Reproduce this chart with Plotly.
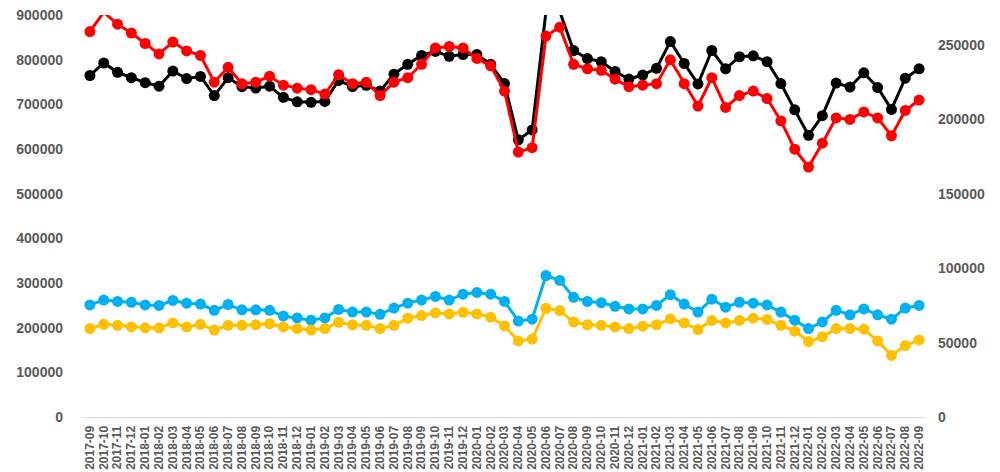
import plotly.graph_objs as go

# Monthly categories, 2017-09 .. 2022-09
months = []
for year in range(2017, 2023):
    for m in range(1, 13):
        label = '%d-%02d' % (year, m)
        if '2017-09' <= label <= '2022-09':
            months.append(label)

# Left axis series
black_vals = [765000, 793000, 772000, 760000, 749000, 741000, 775000, 758000, 763000, 720000,
              760000, 740000, 737000, 741000, 716000, 706000, 705000, 707000, 754000, 740000,
              743000, 730000, 768000, 790000, 810000, 819000, 808000, 812000, 812000, 790000,
              747000, 621000, 643000, 908000, 908000, 821000, 803000, 796000, 774000, 757000,
              766000, 781000, 841000, 792000, 746000, 821000, 780000, 807000, 809000, 796000,
              747000, 688000, 631000, 675000, 748000, 739000, 771000, 738000, 689000, 759000,
              780000]
blue_vals = [251000, 262000, 259000, 257000, 251000, 250000, 261000, 255000, 253000, 239000,
             252000, 240000, 240000, 239000, 226000, 222000, 217000, 222000, 241000, 235000,
             235000, 230000, 244000, 255000, 262000, 270000, 262000, 275000, 279000, 275000,
             259000, 215000, 219000, 317000, 306000, 268000, 259000, 256000, 248000, 242000,
             242000, 250000, 274000, 253000, 235000, 264000, 246000, 257000, 255000, 251000,
             235000, 217000, 198000, 213000, 239000, 229000, 242000, 229000, 219000, 244000,
             250000]

# Right axis series
red_vals = [259000, 272000, 264000, 258000, 251000, 244000, 252000, 246000, 243000, 225000,
            235000, 224000, 225000, 229000, 223000, 221000, 220000, 217000, 230000, 224000,
            225000, 216000, 225000, 228000, 237000, 248000, 249000, 248000, 241000, 236000,
            219000, 178000, 181000, 256000, 262000, 237000, 234000, 233000, 227000, 222000,
            223000, 224000, 240000, 224000, 209000, 228000, 208000, 216000, 219000, 214000,
            199000, 180000, 168000, 184000, 201000, 200000, 205000, 201000, 189000, 206000,
            213000]
yellow_vals = [59400, 62300, 61600, 60500, 59900, 59900, 63200, 60500, 62300, 58400,
               61600, 61600, 62000, 62700, 60500, 59400, 58400, 59400, 63600, 62000,
               61600, 59400, 61600, 66400, 68200, 69900, 69300, 70400, 69300, 67100,
               61200, 51100, 52400, 73000, 71500, 63800, 62000, 61600, 60500, 59400,
               61000, 62000, 66000, 63200, 58800, 64900, 63200, 64900, 66400, 65600,
               61600, 57700, 50700, 53900, 59400, 59400, 59000, 51100, 41400, 48000,
               51800]

def series(vals, color, axis):
    return go.Scatter(
        x=months, y=vals, yaxis=axis,
        mode='lines+markers',
        line=dict(color=color, width=3),
        marker=dict(color=color, size=11),
        cliponaxis=False,
        showlegend=False,
    )

data = [
    series(black_vals, '#000000', 'y'),
    series(red_vals, '#ff0000', 'y2'),
    series(blue_vals, '#00b0f0', 'y'),
    series(yellow_vals, '#ffc000', 'y2'),
]

font_family = 'Liberation Sans, Arial, sans-serif'
tick_font = dict(family=font_family, size=14, color='#595959', weight='bold')

# the page has an 8px body margin, so the figure is 8px smaller than the window
layout = go.Layout(
    width=992, height=464,
    margin=dict(l=75, r=74, t=7, b=55),
    paper_bgcolor='white',
    plot_bgcolor='white',
    xaxis=dict(
        type='category',
        range=[-0.5, len(months) - 0.5],
        tickmode='linear', dtick=1,
        tickangle=-90,
        tickfont=dict(family=font_family, size=12, color='#595959', weight='bold'),
        ticklabelstandoff=3,
        showgrid=False,
        showline=True, linecolor='#d9d9d9', linewidth=1,
        automargin=False,
        ticks='',
    ),
    yaxis=dict(
        range=[0, 900500], tickmode='linear', tick0=0, dtick=100000, tickformat='d',
        showgrid=False, zeroline=False,
        tickfont=tick_font,
        ticklabelstandoff=19,
        ticklabeloverflow='allow',
        automargin=False,
    ),
    yaxis2=dict(
        range=[0, 270150], tickmode='linear', tick0=0, dtick=50000, tickformat='d',
        overlaying='y', side='right',
        showgrid=False, zeroline=False,
        tickfont=tick_font,
        ticklabelstandoff=11,
        ticklabeloverflow='allow',
        automargin=False,
    ),
    # light frame line at the right edge of the picture
    shapes=[
        dict(type='line', xref='paper', yref='paper', x0=1.084, x1=1.084, y0=-0.2, y1=1.1,
             line=dict(color='#d9d9d9', width=1)),
    ],
)

fig = go.Figure(data=data, layout=layout)
fig.write_html('out.html')
